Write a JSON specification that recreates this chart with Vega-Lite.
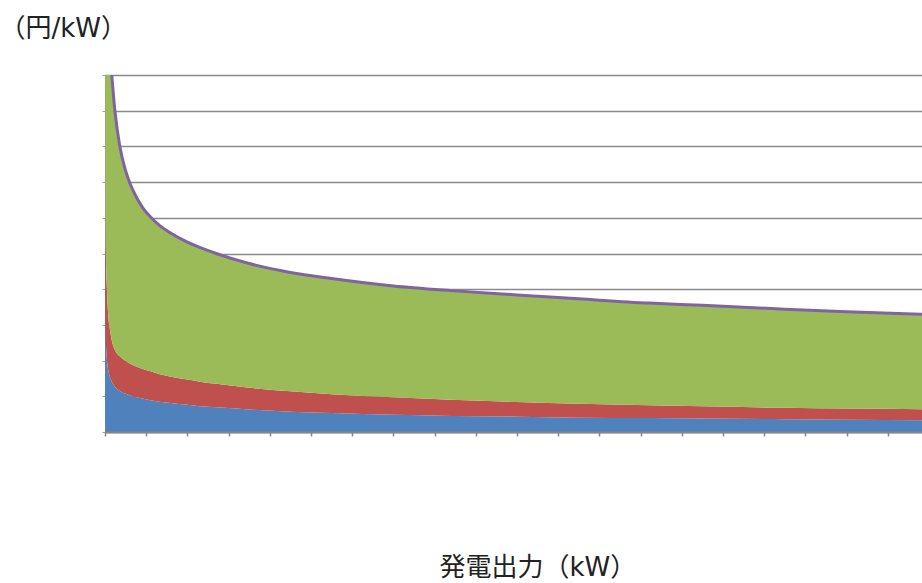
{
  "$schema": "https://vega.github.io/schema/vega-lite/v6.json",
  "width": 817,
  "height": 357,
  "autosize": {"type": "none"},
  "padding": {"left": 105, "top": 75, "right": 0, "bottom": 151},
  "background": "white",
  "config": {"view": {"stroke": null}, "font": "DejaVu Sans, Noto Sans CJK JP"},
  "data": {
    "values": [
      {"u": 0.005, "cost_a": 290, "cost_b": 320, "cost_c": 890, "total": 1500},
      {"u": 0.02, "cost_a": 250, "cost_b": 250, "cost_c": 800, "total": 1300},
      {"u": 0.04, "cost_a": 212, "cost_b": 208, "cost_c": 790, "total": 1210},
      {"u": 0.08, "cost_a": 172, "cost_b": 153, "cost_c": 805, "total": 1130},
      {"u": 0.12, "cost_a": 154, "cost_b": 133, "cost_c": 768, "total": 1055},
      {"u": 0.16, "cost_a": 142, "cost_b": 117, "cost_c": 746, "total": 1005},
      {"u": 0.24, "cost_a": 127, "cost_b": 103, "cost_c": 670, "total": 900},
      {"u": 0.36, "cost_a": 115, "cost_b": 97, "cost_c": 588, "total": 800},
      {"u": 0.5, "cost_a": 107, "cost_b": 92, "cost_c": 533, "total": 732},
      {"u": 0.6, "cost_a": 103, "cost_b": 89, "cost_c": 506, "total": 698},
      {"u": 0.77, "cost_a": 97, "cost_b": 86, "cost_c": 473, "total": 656},
      {"u": 0.93, "cost_a": 93, "cost_b": 83, "cost_c": 450, "total": 626},
      {"u": 1.1, "cost_a": 89, "cost_b": 81, "cost_c": 433, "total": 603},
      {"u": 1.33, "cost_a": 85, "cost_b": 77, "cost_c": 416, "total": 578},
      {"u": 1.6, "cost_a": 81, "cost_b": 74, "cost_c": 402, "total": 557},
      {"u": 2, "cost_a": 76, "cost_b": 71, "cost_c": 385, "total": 532},
      {"u": 2.3, "cost_a": 72, "cost_b": 69, "cost_c": 376, "total": 517},
      {"u": 2.7, "cost_a": 69, "cost_b": 66, "cost_c": 365, "total": 500},
      {"u": 3.5, "cost_a": 63, "cost_b": 61, "cost_c": 348, "total": 472},
      {"u": 4.5, "cost_a": 57, "cost_b": 57, "cost_c": 333, "total": 447},
      {"u": 5.5, "cost_a": 53, "cost_b": 53, "cost_c": 324, "total": 430},
      {"u": 7, "cost_a": 48, "cost_b": 49, "cost_c": 312, "total": 409},
      {"u": 8.4, "cost_a": 45, "cost_b": 45, "cost_c": 306, "total": 396},
      {"u": 10, "cost_a": 43, "cost_b": 41, "cost_c": 300, "total": 384},
      {"u": 11.5, "cost_a": 40, "cost_b": 39, "cost_c": 294, "total": 373},
      {"u": 13.2, "cost_a": 39, "cost_b": 36, "cost_c": 286, "total": 361},
      {"u": 14.5, "cost_a": 38, "cost_b": 34, "cost_c": 283, "total": 355},
      {"u": 16.5, "cost_a": 36, "cost_b": 32, "cost_c": 276, "total": 344},
      {"u": 18, "cost_a": 34, "cost_b": 32, "cost_c": 271, "total": 337},
      {"u": 19.83, "cost_a": 33, "cost_b": 31, "cost_c": 266, "total": 330}
    ]
  },
  "encoding": {
    "x": {
      "field": "u", "type": "quantitative",
      "scale": {"domain": [0, 19.83], "nice": false, "zero": false},
      "axis": {
        "values": [0,1,2,3,4,5,6,7,8,9,10,11,12,13,14,15,16,17,18,19],
        "labels": false, "grid": false, "ticks": true, "tickSize": 4,
        "tickColor": "#868686", "tickWidth": 1.5,
        "domainColor": "#868686", "domainWidth": 2, "zindex": 1,
        "title": "発電出力（kW）", "titleFontSize": 26, "titleFontWeight": "normal",
        "titleColor": "#222222", "titleAlign": "left", "titleBaseline": "middle",
        "titleX": 334, "titleY": 135
      }
    }
  },
  "layer": [
    {
      "transform": [{"fold": ["cost_a", "cost_b", "cost_c"], "as": ["series", "value"]}],
      "mark": {"type": "area", "clip": true, "interpolate": "monotone"},
      "encoding": {
        "y": {
          "field": "value", "type": "quantitative", "stack": "zero",
          "scale": {"domain": [0, 1000], "nice": false},
          "axis": {
            "values": [0,100,200,300,400,500,600,700,800,900,1000],
            "labels": false, "grid": true, "gridColor": "#8a8a8a", "gridWidth": 1.5,
            "ticks": true, "tickSize": 3, "tickColor": "#a0a0a0",
            "domainColor": "#868686", "domainWidth": 1,
            "title": "（円/kW）", "titleFontSize": 26, "titleFontWeight": "normal",
            "titleColor": "#222222", "titleAngle": 0, "titleAlign": "left",
            "titleBaseline": "middle", "titleX": -106, "titleY": -47
          }
        },
        "color": {
          "field": "series", "type": "nominal",
          "scale": {"domain": ["cost_a", "cost_b", "cost_c"], "range": ["#4F81BD", "#C0504D", "#9BBB59"]},
          "legend": null
        },
        "order": {"field": "series", "sort": "ascending"}
      }
    },
    {
      "mark": {"type": "line", "clip": true, "interpolate": "monotone", "color": "#8064A2", "strokeWidth": 3},
      "encoding": {
        "y": {
          "field": "total", "type": "quantitative",
          "scale": {"domain": [0, 1000], "nice": false},
          "axis": {
            "values": [0,100,200,300,400,500,600,700,800,900,1000],
            "labels": false, "grid": true, "gridColor": "#8a8a8a", "gridWidth": 1.5,
            "ticks": true, "tickSize": 3, "tickColor": "#a0a0a0",
            "domainColor": "#868686", "domainWidth": 1,
            "title": "（円/kW）", "titleFontSize": 26, "titleFontWeight": "normal",
            "titleColor": "#222222", "titleAngle": 0, "titleAlign": "left",
            "titleBaseline": "middle", "titleX": -106, "titleY": -47
          }
        }
      }
    }
  ]
}
